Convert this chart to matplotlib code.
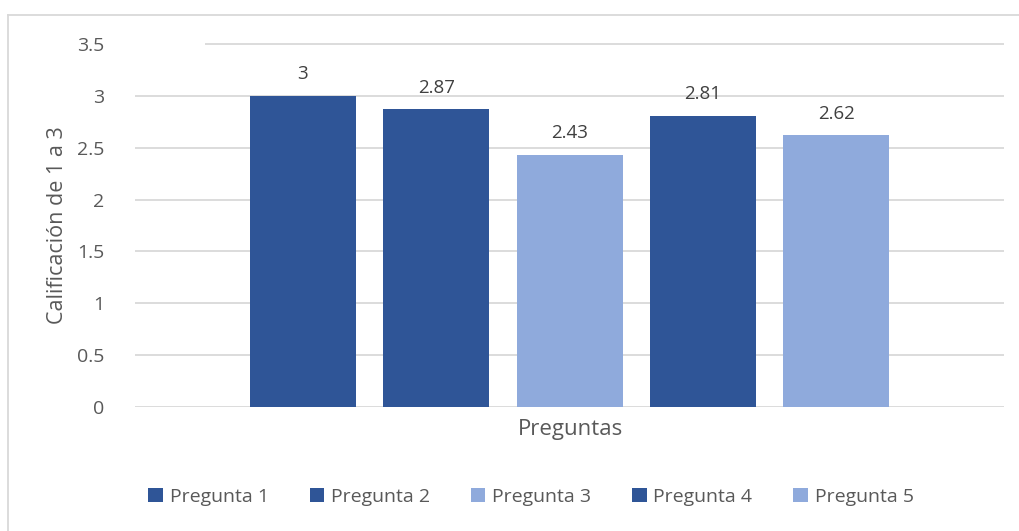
import matplotlib
matplotlib.use("Agg")
import matplotlib.pyplot as plt
from matplotlib.patches import Patch
from matplotlib.lines import Line2D

series = ["Pregunta 1", "Pregunta 2", "Pregunta 3", "Pregunta 4", "Pregunta 5"]
values = [3, 2.87, 2.43, 2.81, 2.62]
labels = ["3", "2.87", "2.43", "2.81", "2.62"]
DARK = "#2F5597"
LIGHT = "#8FAADC"
colors = [DARK, DARK, LIGHT, DARK, LIGHT]
yticks = [0, 0.5, 1, 1.5, 2, 2.5, 3, 3.5]
ytick_labels = ["0", "0.5", "1", "1.5", "2", "2.5", "3", "3.5"]

W, H = 1020, 531
fig = plt.figure(figsize=(W / 100, H / 100), dpi=100)
plt.rcParams['font.family'] = ['Open Sans', 'DejaVu Sans']
TXT = "#595959"

# plot area in pixels
x0, x1 = 135, 1004
y0, y1 = 407, 44  # y=0 at 407, y=3.5 at 44
ax = fig.add_axes([x0 / W, 1 - y0 / H, (x1 - x0) / W, (y0 - y1) / H])
ax.set_xlim(-0.5, 0.5)
ax.set_ylim(0, 3.5)

step = 133.3 / 869
bw = 106 / 869
for i, (s, v, c, lab) in enumerate(zip(series, values, colors, labels)):
    xc = (i - 2) * step
    ax.bar(xc, v, width=bw, color=c, zorder=3, label=s)
    ax.annotate(lab, (xc, v), xytext=(0, 9), textcoords="offset points",
                ha="center", va="bottom", fontsize=13.5, color="#404040")

# gridlines (top one starts further right like the reference)
for t in yticks:
    if t == 3.5:
        ax.plot([(205 - x0) / 869 - 0.5, 0.5], [t, t], color="#D9D9D9", lw=1.3,
                zorder=1, clip_on=False, solid_capstyle="butt")
    else:
        ax.axhline(t, color="#D9D9D9", lw=1.3, zorder=1)

for sp in ax.spines.values():
    sp.set_visible(False)
ax.set_xticks([])
ax.set_yticks(yticks)
ax.set_yticklabels(ytick_labels)
ax.tick_params(axis="y", length=0, pad=22, labelsize=14, labelcolor=TXT)

fig.text(58 / W, 1 - 225 / H, "Calificación de 1 a 3", rotation=90, ha="center",
         va="center", fontsize=15.5, color=TXT)
fig.text(571 / W, 1 - 430 / H, "Preguntas", ha="center", va="center",
         fontsize=16, color=TXT)

handles = [Patch(facecolor=c, edgecolor="none") for c in colors]
leg = fig.legend(handles, series, loc="center", bbox_to_anchor=(531 / W, 1 - 497 / H),
                 ncol=5, frameon=False, fontsize=14, labelcolor=TXT,
                 handlelength=0.75, handleheight=0.75, handletextpad=0.35,
                 columnspacing=2.1)

# chart border (top and left visible)
fig.add_artist(Line2D([8 / W, 1], [1 - 14.5 / H, 1 - 14.5 / H], color="#D9D9D9", lw=1.3,
                      transform=fig.transFigure))
fig.add_artist(Line2D([8.5 / W, 8.5 / W], [0, 1 - 14.5 / H], color="#D9D9D9", lw=1.3,
                      transform=fig.transFigure))

fig.savefig("out.png", dpi=100)
